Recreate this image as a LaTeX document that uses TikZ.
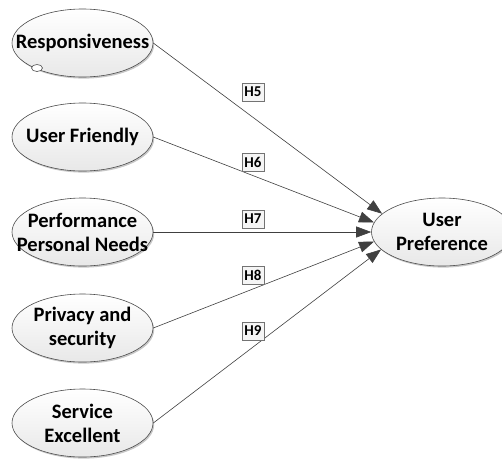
\documentclass[tikz,border=0pt]{standalone}
\usepackage{fontspec}
\setmainfont{Carlito}
\usetikzlibrary{shapes.geometric,arrows.meta,shadows}
\begin{document}
\begin{tikzpicture}[x=1pt,y=-1pt,
  ell/.style={ellipse, draw=black!70, line width=0.6pt, top color=white, bottom color=black!9,
    minimum width=141pt, minimum height=68pt, inner sep=0pt,
    drop shadow={shadow xshift=1.2pt, shadow yshift=-1.6pt, opacity=0.22, fill=black}},
  lbl/.style={font=\bfseries\fontsize{20.5}{24}\selectfont, align=center, inner sep=0pt, text=black},
  hyp/.style={draw=black!55, line width=0.6pt, fill=black!4, font=\bfseries\fontsize{15}{16}\selectfont,
    inner xsep=2.5pt, inner ysep=1.5pt, minimum height=18pt,
    drop shadow={shadow xshift=1pt, shadow yshift=-1pt, opacity=0.3, fill=black}},
  link/.style={draw=black!75, line width=0.6pt, -{Triangle[length=15pt,width=11pt]}},
  knob/.style={ellipse, draw=black!70, line width=0.6pt, fill=white, minimum width=11pt, minimum height=7pt, inner sep=0pt}
]
\useasboundingbox (0,0) rectangle (502,459);
\fill[white] (0,0) rectangle (502,459);

\node[ell] (e1) at (82.5,43) {};
\node[ell] (e2) at (82.5,137) {};
\node[ell] (e3) at (82.5,232) {};
\node[ell] (e4) at (82.5,328) {};
\node[ell] (e5) at (82.5,423) {};
\node[ell] (eu) at (442,232) {};

\node[lbl] (t1) at (e1) {Responsiveness};
\node[lbl] (t2) at (e2) {User Friendly};
\node[lbl] (t3) at (e3) {Performance\\Personal Needs};
\node[lbl] (t4) at (e4) {Privacy and\\security};
\node[lbl] (t5) at (e5) {Service\\Excellent};
\node[lbl] (tu) at (eu) {User\\Preference};

\node[knob] (k1) at (37,68) {};

\draw[link] (e1.east) -- (eu.163);
\draw[link] (e2.east) -- (eu.172);
\draw[link] (e3.east) -- (eu.180);
\draw[link] (e4.east) -- (eu.188);
\draw[link] (e5.east) -- (eu.196);

\node[hyp] (h5) at (253,92) {H5};
\node[hyp] (h6) at (253,162) {H6};
\node[hyp] (h7) at (253,219) {H7};
\node[hyp] (h8) at (253,275) {H8};
\node[hyp] (h9) at (253,331) {H9};
\end{tikzpicture}
\end{document}
